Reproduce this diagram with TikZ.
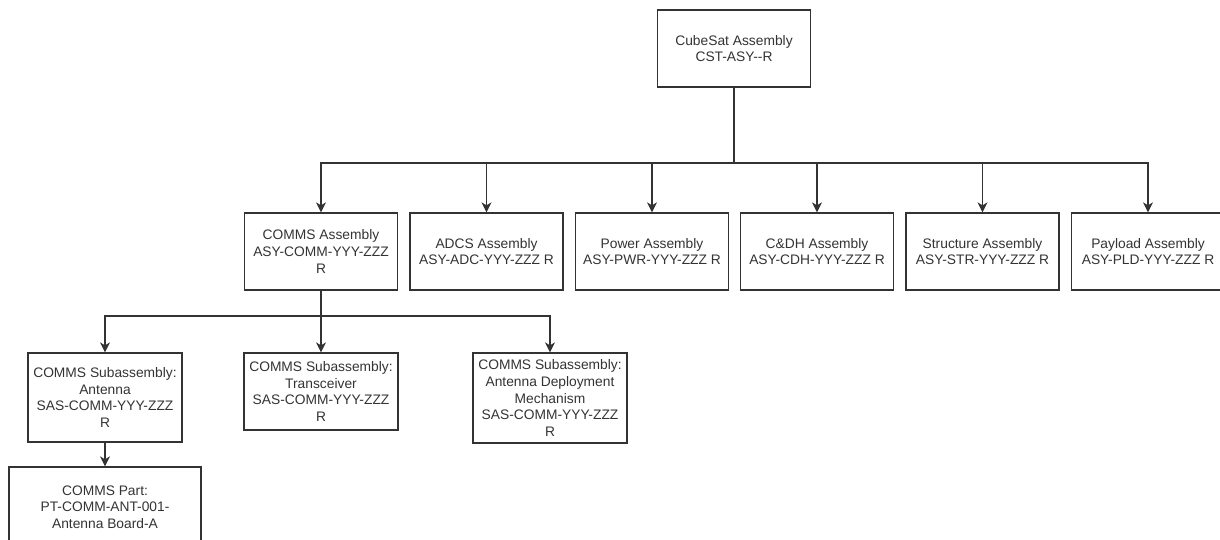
\documentclass[tikz,border=0pt]{standalone}
\usepackage{fontspec}
\setmainfont{Liberation Sans}
\usetikzlibrary{arrows.meta}

\begin{document}
\begin{tikzpicture}[x=1pt, y=-1pt,
  box/.style={draw=black!80, line width=1.3pt, minimum width=153pt, minimum height=77pt,
    align=center, inner sep=2pt, text=black!80, font=\fontsize{13.8}{16.7}\selectfont},
  conn/.style={draw=black!80, line width=1.3pt, -{Stealth[length=10pt,width=10pt,inset=3pt]}}]
\useasboundingbox (0,0) rectangle (1220,539);
\coordinate (bus) at (0,163);
\coordinate (sub) at (0,316);
\node[box] (cst) at (734,48.5) {CubeSat Assembly\\CST-ASY-{}-R};
\node[box] (comms) at (321,251.5) {COMMS Assembly\\ASY-COMM-YYY-ZZZ\\R};
\node[box] (adcs) at (486.5,251.5) {ADCS Assembly\\ASY-ADC-YYY-ZZZ R};
\node[box] (pwr) at (652,251.5) {Power Assembly\\ASY-PWR-YYY-ZZZ R};
\node[box] (cdh) at (817,251.5) {C\&DH Assembly\\ASY-CDH-YYY-ZZZ R};
\node[box] (str) at (982.5,251.5) {Structure Assembly\\ASY-STR-YYY-ZZZ R};
\node[box] (pld) at (1148,251.5) {Payload Assembly\\ASY-PLD-YYY-ZZZ R};
\node[box, minimum width=154pt, minimum height=89pt] (ant) at (105,397.5) {COMMS Subassembly:\\Antenna\\SAS-COMM-YYY-ZZZ\\R};
\node[box, minimum width=154pt] (trx) at (321,391.5) {COMMS Subassembly:\\Transceiver\\SAS-COMM-YYY-ZZZ\\R};
\node[box, minimum width=154pt, minimum height=90pt] (adm) at (550,398) {COMMS Subassembly:\\Antenna Deployment\\Mechanism\\SAS-COMM-YYY-ZZZ\\R};
\node[box, minimum width=192pt, minimum height=80pt] (part) at (105,507) {COMMS Part:\\PT-COMM-ANT-001-\\Antenna Board-A};
\foreach \n in {comms,adcs,pwr,cdh,str,pld}
  \draw[conn] (cst.south) -- (cst.south |- bus) -| (\n.north);
\foreach \n in {ant,trx,adm}
  \draw[conn] (comms.south) -- (comms.south |- sub) -| (\n.north);
\draw[conn] (ant.south) -- (part.north);
\end{tikzpicture}
\end{document}
